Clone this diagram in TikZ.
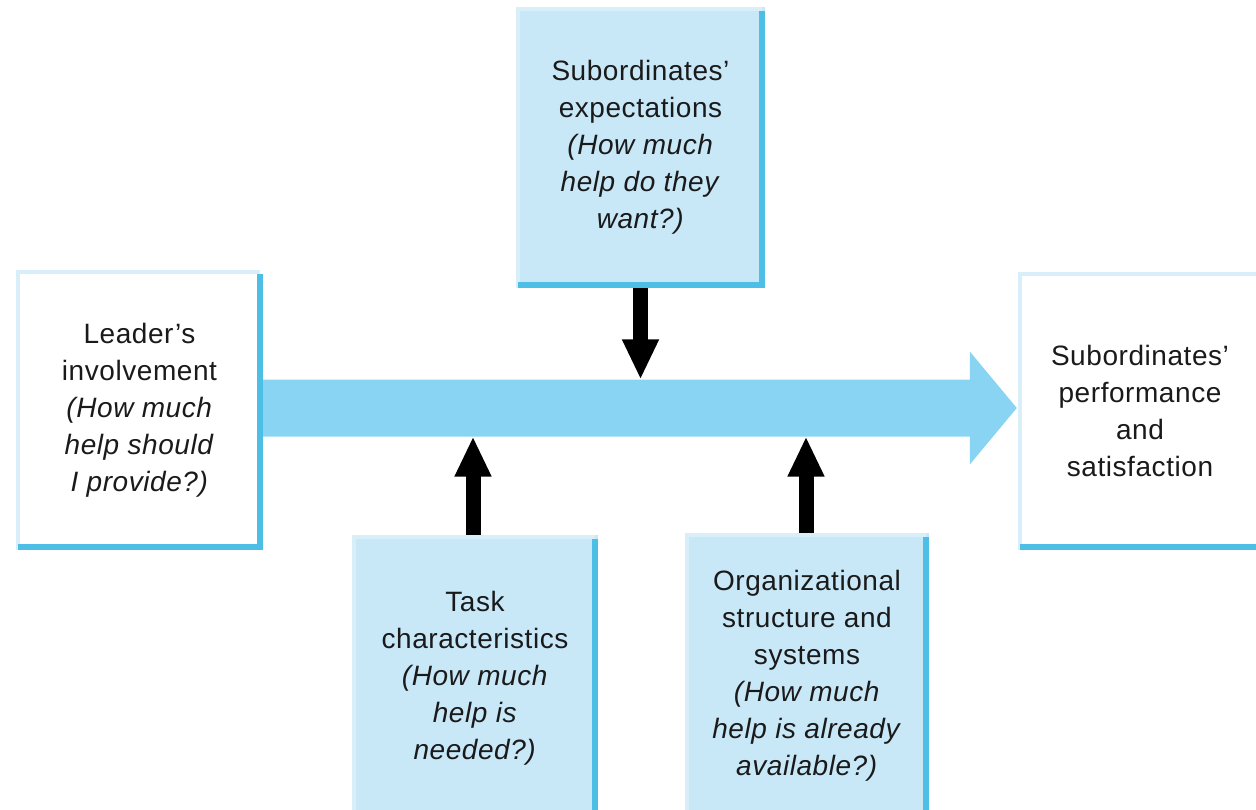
\documentclass[tikz,border=0pt]{standalone}
\usepackage{fontspec}
\setmainfont{Liberation Sans}[LetterSpace=2]
\usetikzlibrary{arrows.meta,calc}

\definecolor{boxblue}{HTML}{C8E8F8}
\definecolor{bandblue}{HTML}{89D4F2}
\definecolor{edgedark}{HTML}{4DBFE7}
\definecolor{edgepale}{HTML}{D8EFF9}
\definecolor{ink}{HTML}{1A1A1A}

\newcommand*\lblfont{\fontsize{28}{37}\selectfont}

\begin{document}
\begin{tikzpicture}[x=1pt,y=-1pt,
  panel/.style={rectangle, inner sep=0pt, align=center, font=\lblfont, text=ink},
  factor/.style={panel, fill=boxblue},
  outcome/.style={panel, fill=white},
  paleedge/.style={draw=edgepale, line width=4pt},
  darkedge/.style={draw=edgedark, line width=6pt},
  band/.style={fill=bandblue},
  push/.style={draw=black, line width=15pt,
    -{Triangle[length=40pt 0 0, width=34pt 0 0]}}]

\useasboundingbox (0,0) rectangle (1256,810);
\clip (0,0) rectangle (1256,810);

% boxes
\node[outcome, minimum width=247pt, minimum height=280pt] (L) at (139.5,410)
  {Leader’s\\involvement\\\textit{(How much}\\\textit{help should}\\\textit{I provide?)}};
\node[factor, minimum width=249pt, minimum height=281pt] (E) at (640.5,147.5)
  {Subordinates’\\expectations\\\textit{(How much}\\\textit{help do they}\\\textit{want?)}};
\node[outcome, minimum width=244pt, minimum height=278pt] (R) at (1140,411)
  {Subordinates’\\performance\\and\\satisfaction};
\node[factor, minimum width=246pt, minimum height=286pt] (T) at (475,678)
  {Task\\characteristics\\\textit{(How much}\\\textit{help is}\\\textit{needed?)}};
\node[factor, minimum width=244pt, minimum height=286pt] (O) at (807,676)
  {Organizational\\structure and\\systems\\\textit{(How much}\\\textit{help is already}\\\textit{available?)}};

% main flow arrow from the leader box to the outcome box
\coordinate (tip) at ($(R.west)+(-1,-3)$);
\coordinate (bandTop) at ($(tip)+(0,-28.5)$);
\coordinate (bandBot) at ($(tip)+(0,28.5)$);
\fill[band] (L.east |- bandTop) -- ($(bandTop)+(-47,0)$) -- ($(tip)+(-47,-56.5)$)
  -- (tip) -- ($(tip)+(-47,56.5)$) -- ($(bandBot)+(-47,0)$) -- (L.east |- bandBot) -- cycle;

% box edges: pale on top/left, dark on right/bottom
\foreach \n in {L,E,R,T,O} {
  \draw[paleedge] ($(\n.south west)+(2,0)$) -- ($(\n.north west)+(2,2)$) -- ($(\n.north east)+(-3,2)$);
  \draw[darkedge] ($(\n.north east)+(-3,4)$) -- ($(\n.south east)+(-3,-3)$) -- ($(\n.south west)+(2,-3)$);
}

% influence arrows
\draw[push] (E.south) -- (E.south |- bandTop);
\draw[push] ($(T.north)+(-2,0)$) -- ($(T.north |- bandBot)+(-2,0)$);
\draw[push] ($(O.north)+(-1,0)$) -- ($(O.north |- bandBot)+(-1,0)$);
\end{tikzpicture}
\end{document}
